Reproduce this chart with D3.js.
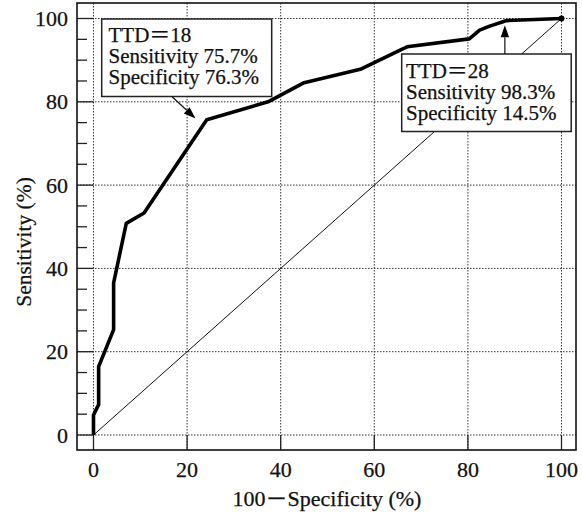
<!DOCTYPE html>
<html>
<head>
<meta charset="utf-8">
<script src="https://cdn.jsdelivr.net/npm/d3@7/dist/d3.min.js"></script>
<style>
  html, body { margin: 0; padding: 0; background: #fff; }
  svg { display: block; }
  text { font-family: "Liberation Serif", "Noto Sans CJK JP", serif; fill: #111; stroke: #111; stroke-width: 0.25px; }
</style>
</head>
<body>
<svg id="chart" width="582" height="517"></svg>
<script>
// ROC curve (x = 100 - specificity, y = sensitivity)
const fpr = [0, 0, 1.1, 1.1, 4.3, 4.3, 5.3, 7.0, 10.8, 15.0, 24.2, 37.3, 45.0, 57.0, 66.3, 67.0, 80.3, 82.5, 84.5, 88.3, 100];
const tpr = [0, 4.8, 7.3, 16.4, 25.3, 36.5, 41.8, 50.8, 53.3, 60.3, 75.7, 80.0, 84.6, 87.8, 92.8, 93.2, 95.1, 97.2, 98.1, 99.5, 100];
// reference diagonal
const diagX = [0, 100];
const diagY = [0, 100];
// axis ticks
const xTicks = [0, 20, 40, 60, 80, 100];
const yTicks = [0, 20, 40, 60, 80, 100];
const yMinorTicks = [5, 10, 15, 25, 30, 35, 45, 50, 55, 65, 70, 75, 85, 90, 95];
// annotation texts
const note1 = ["TTD＝18", "Sensitivity 75.7%", "Specificity 76.3%"];
const note2 = ["TTD＝28", "Sensitivity 98.3%", "Specificity 14.5%"];
// arrow anchors in data units [x1, y1, x2, y2]
const arrow1 = [16.8, 81.2, 21.8, 76.0];
const arrow2 = [87.9, 91.5, 87.9, 98.4];

const svg = d3.select("#chart");
const x = d3.scaleLinear().domain([0, 100]).range([93.5, 561.5]);
const y = d3.scaleLinear().domain([0, 100]).range([435, 18.5]);

const fx0 = 77, fx1 = 576, fy0 = 3, fy1 = 450;

// gridlines (dotted)
const grid = svg.append("g").attr("stroke", "#333").attr("stroke-width", 1).attr("stroke-dasharray", "1.5,1.5");
grid.selectAll("line.v").data(xTicks).join("line")
  .attr("x1", d => x(d)).attr("x2", d => x(d)).attr("y1", fy0).attr("y2", fy1);
grid.selectAll("line.h").data(yTicks).join("line")
  .attr("y1", d => y(d)).attr("y2", d => y(d)).attr("x1", fx0).attr("x2", fx1);

// ticks
const ticks = svg.append("g").attr("stroke", "#222").attr("stroke-width", 1.3);
ticks.selectAll("line.xt").data(xTicks).join("line")
  .attr("x1", d => x(d)).attr("x2", d => x(d)).attr("y1", fy1).attr("y2", y(0));
ticks.selectAll("line.yt").data(yTicks).join("line")
  .attr("y1", d => y(d)).attr("y2", d => y(d)).attr("x1", fx0).attr("x2", x(0));
ticks.selectAll("line.ym").data(yMinorTicks).join("line")
  .attr("y1", d => y(d)).attr("y2", d => y(d)).attr("x1", fx0).attr("x2", fx0 + 10);

// frame
svg.append("rect").attr("x", fx0).attr("y", fy0).attr("width", fx1 - fx0).attr("height", fy1 - fy0)
  .attr("fill", "none").attr("stroke", "#111").attr("stroke-width", 1.6);

// diagonal
svg.append("path")
  .attr("d", d3.line()(diagX.map((d, i) => [x(d), y(diagY[i])])))
  .attr("stroke", "#111").attr("stroke-width", 1).attr("fill", "none");

// ROC curve
svg.append("path")
  .attr("d", d3.line().x((d, i) => x(fpr[i])).y((d, i) => y(tpr[i]))(fpr))
  .attr("stroke", "#000").attr("stroke-width", 3.6).attr("stroke-linejoin", "round").attr("fill", "none");
svg.append("circle").attr("cx", x(fpr[fpr.length - 1])).attr("cy", y(tpr[tpr.length - 1])).attr("r", 3).attr("fill", "#000");

// tick labels
svg.append("g").selectAll("text").data(xTicks).join("text")
  .attr("x", d => x(d)).attr("y", 477).attr("text-anchor", "middle")
  .attr("font-size", 22).text(d => d);
svg.append("g").selectAll("text").data(yTicks).join("text")
  .attr("x", 68).attr("y", d => y(d) + 7.5).attr("text-anchor", "end")
  .attr("font-size", 22).text(d => d);

// axis titles
svg.append("text").attr("x", 327).attr("y", 506).attr("text-anchor", "middle")
  .attr("font-size", 22).text("100－Specificity (%)");
svg.append("text").attr("transform", "translate(31,242) rotate(-90)").attr("text-anchor", "middle")
  .attr("font-size", 21.5).text("Sensitivity (%)");

// annotation boxes
function box(lines, bx, by, bw, bh, tx, ty) {
  const g = svg.append("g");
  g.append("rect").attr("x", bx).attr("y", by).attr("width", bw).attr("height", bh)
    .attr("fill", "#fff").attr("stroke", "#222").attr("stroke-width", 1.5);
  g.selectAll("text").data(lines).join("text")
    .attr("x", tx).attr("y", (d, i) => ty + i * 21).attr("font-size", 21).text(d => d);
}
box(note1, 101.7, 19, 170, 77.5, 108.5, 41.7);
box(note2, 401.7, 54, 169.5, 77.5, 406, 78.3);

// arrows
function arrow(a) {
  const x1 = x(a[0]), y1 = y(a[1]), x2 = x(a[2]), y2 = y(a[3]);
  const ang = Math.atan2(y2 - y1, x2 - x1);
  const L = 12, W = 4.2;
  const bx = x2 - L * Math.cos(ang), by = y2 - L * Math.sin(ang);
  svg.append("line").attr("x1", x1).attr("y1", y1).attr("x2", bx).attr("y2", by)
    .attr("stroke", "#111").attr("stroke-width", 1.2);
  const p = [[x2, y2],
             [bx + W * Math.sin(ang), by - W * Math.cos(ang)],
             [bx - W * Math.sin(ang), by + W * Math.cos(ang)]];
  svg.append("path").attr("d", "M" + p.join("L") + "Z").attr("fill", "#000");
}
arrow(arrow1);
arrow(arrow2);
</script>
</body>
</html>
